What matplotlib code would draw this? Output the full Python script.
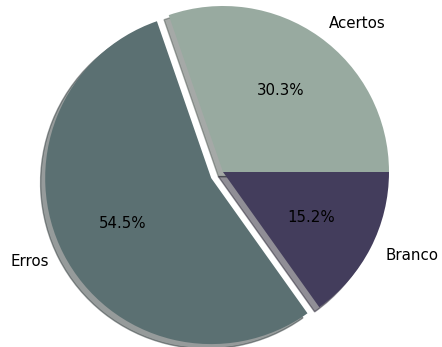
import matplotlib
matplotlib.use("Agg")
import matplotlib.pyplot as plt

labels = ["Acertos", "Erros", "Branco"]
values = [10, 18, 5]
colors = ["#98aaa0", "#5b7072", "#433d5c"]
explode = [0, 0.08, 0]

fig = plt.figure(figsize=(4.42, 3.47), dpi=100)
ax = fig.add_axes([0, 0, 1, 1])
ax.pie(values, labels=labels, colors=colors, explode=explode,
       autopct="%1.1f%%", shadow={"ox": -0.02, "oy": -0.02, "shade": 0.5},
       startangle=0, textprops={"fontsize": 10.8})
s = 166.0
cx, cy = 223.0, 172.0
ax.set_aspect("auto")
ax.set_xlim(-cx / s, (442 - cx) / s)
ax.set_ylim(-(347 - cy) / s, cy / s)
ax.axis("off")
fig.savefig("out.png", dpi=100)
